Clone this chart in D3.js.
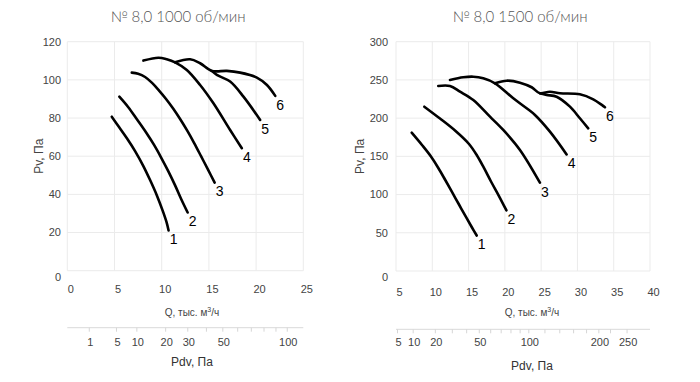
<!DOCTYPE html>
<html><head><meta charset="utf-8">
<script src="https://cdn.jsdelivr.net/npm/d3@7"></script>
<style>
html,body{margin:0;padding:0;background:#fff;}
svg{display:block;}
</style></head>
<body>
<svg id="chart" width="700" height="382"></svg>
<script>
// ---------------- DATA ----------------
const titles = ["№ 8,0 1000 об/мин", "№ 8,0 1500 об/мин"];
const curveLabels = ["1", "2", "3", "4", "5", "6"];

// 1000 rpm
const qTicks1000 = [0, 5, 10, 15, 20, 25];
const pTicks1000 = [0, 20, 40, 60, 80, 100, 120];
const pdvTicks1000 = [1, 5, 10, 20, 30, 50, 100];
const pdvMinor1000 = [1, 5, 10, 20, 30, 40, 50, 60, 70, 80, 90, 100];
const flow1000 = [
  [4.71, 5.48, 6.33, 7.18, 8.03, 8.77, 9.51, 10.15, 10.52, 10.73],
  [5.51, 6.44, 7.39, 8.35, 9.19, 9.94, 10.68, 11.42, 12.06, 12.75],
  [6.83, 7.5, 8.24, 8.98, 9.72, 10.46, 11.21, 11.95, 12.69, 13.44, 14.18, 14.92, 15.61],
  [8.06, 9.65, 10.54, 11.42, 12.66, 14.07, 15.48, 17.25, 18.49],
  [15.31, 15.84, 17.25, 18.66, 20.43],
  [11.42, 13.01, 14.07, 15.31, 16.9, 18.31, 20.08, 21.15, 22.03]
];
const press1000 = [
  [80.7, 75.3, 69.3, 62.7, 55.1, 47.5, 39.2, 30.8, 25.3, 21.1],
  [91.2, 85.8, 79.2, 72.4, 65.9, 59.3, 52.3, 44.7, 37.6, 30.5],
  [103.8, 103.2, 101.5, 98.4, 94.4, 90.0, 85.0, 79.5, 73.5, 66.9, 59.9, 52.8, 46.2],
  [110.1, 111.6, 110.8, 109.2, 105.2, 97.3, 87.7, 73.7, 64.2],
  [104.7, 102.6, 99.1, 91.2, 79.0],
  [109.2, 110.8, 108.7, 104.7, 104.7, 103.8, 101.2, 97.3, 91.6]
];

// 1500 rpm
const qTicks1500 = [5, 10, 15, 20, 25, 30, 35, 40];
const pTicks1500 = [0, 50, 100, 150, 200, 250, 300];
const pdvTicks1500 = [5, 10, 20, 50, 100, 200, 250];
const pdvMinor1500 = [5, 10, 20, 30, 40, 50, 60, 70, 80, 90, 100, 120, 140, 160, 180, 200, 220, 250];
const flow1500 = [
  [7.16, 8.58, 9.82, 10.79, 11.75, 12.71, 13.68, 14.64, 15.47, 16.12],
  [8.9, 11.06, 13.13, 15.06, 16.16, 17.12, 18.09, 19.19, 20.22],
  [10.83, 12.44, 13.82, 15.65, 17.95, 19.78, 22.08, 24.83],
  [12.44, 14.27, 15.65, 17.02, 18.64, 21.16, 23.0, 24.15, 26.21, 28.51],
  [24.83, 25.76, 27.13, 28.97, 30.34, 31.49],
  [18.64, 20.25, 22.08, 23.69, 24.83, 26.21, 27.59, 30.34, 32.18, 33.79]
];
const press1500 = [
  [181.0, 164.9, 149.8, 135.4, 119.7, 103.4, 87.0, 70.7, 56.9, 46.4],
  [215.0, 199.5, 183.8, 166.2, 151.1, 134.8, 117.1, 98.1, 79.2],
  [242.0, 242.0, 234.6, 223.7, 201.9, 184.5, 158.3, 115.5],
  [249.9, 253.4, 254.2, 252.1, 245.6, 226.0, 212.9, 204.1, 182.3, 152.5],
  [232.5, 230.3, 228.0, 215.0, 199.8, 186.7],
  [245.6, 249.0, 246.4, 240.4, 232.5, 234.6, 232.5, 231.2, 224.6, 214.2]
];

// dynamic pressure relation: Q [thousand m3/h] = K * sqrt(Pdv)
const pdvFactor = 2.33;

// ---------------- DRAW ----------------
const svg = d3.select("#chart");
const tickFont = "'Liberation Sans', Arial, sans-serif";

const panels = [
  {title: titles[0], qTicks: qTicks1000, pTicks: pTicks1000, pdvTicks: pdvTicks1000, pdvMinor: pdvMinor1000,
   flow: flow1000, press: press1000, qDom: [0, 25], pDom: [0, 120],
   xr: [67.3, 303.3], yr: [270.7, 41.7], titleX: 178, qLabY: 289, qTitleX: 192,
   pvX: 39, pdvLineY: 327.7, pdvLabY: 342, pdvTitleY: 362, yLabX: 61},
  {title: titles[1], qTicks: qTicks1500, pTicks: pTicks1500, pdvTicks: pdvTicks1500, pdvMinor: pdvMinor1500,
   flow: flow1500, press: press1500, qDom: [5, 40], pDom: [0, 300],
   xr: [396, 650], yr: [271, 41.7], titleX: 520, qLabY: 292, qTitleX: 532,
   pvX: 360, pdvLineY: 329.3, pdvLabY: 342.5, pdvTitleY: 366, yLabX: 388}
];

panels.forEach(pn => {
  const x = d3.scaleLinear().domain(pn.qDom).range(pn.xr);
  const y = d3.scaleLinear().domain(pn.pDom).range(pn.yr);
  const g = svg.append("g");

  // title
  g.append("text").attr("x", pn.titleX).attr("y", 22)
    .attr("text-anchor", "middle")
    .style("font-family", "Lato, 'Noto Sans', sans-serif").style("font-weight", 300)
    .style("font-size", "15px").style("fill", "#555")
    .text(pn.title);

  // grid
  g.append("g").selectAll("line").data(pn.qTicks).join("line")
    .attr("x1", d => x(d)).attr("x2", d => x(d))
    .attr("y1", pn.yr[1]).attr("y2", pn.yr[0])
    .attr("stroke", "#ebebeb").attr("stroke-width", 1);
  g.append("g").selectAll("line").data(pn.pTicks).join("line")
    .attr("x1", pn.xr[0]).attr("x2", pn.xr[1])
    .attr("y1", d => y(d)).attr("y2", d => y(d))
    .attr("stroke", "#ebebeb").attr("stroke-width", 1);

  // y tick labels
  g.append("g").selectAll("text").data(pn.pTicks).join("text")
    .attr("x", pn.yLabX).attr("y", d => y(d) + (d === 0 ? 6 : 0))
    .attr("dy", "0.35em").attr("text-anchor", "end")
    .style("font-family", tickFont).style("font-size", "11px").style("fill", "#444")
    .text(d => d);

  // x tick labels
  g.append("g").selectAll("text").data(pn.qTicks).join("text")
    .attr("x", d => x(d) + 3.5).attr("y", pn.qLabY)
    .attr("dy", "0.35em").attr("text-anchor", "middle")
    .style("font-family", tickFont).style("font-size", "11px").style("fill", "#444")
    .text(d => d);

  // axis titles
  const qt = g.append("text").attr("x", pn.qTitleX).attr("y", 312).attr("dy", "0.35em")
    .attr("text-anchor", "middle")
    .style("font-family", tickFont).style("font-size", "10px").style("fill", "#444");
  qt.append("tspan").text("Q, тыс. м");
  qt.append("tspan").attr("dy", "-4").style("font-size", "7px").text("3");
  qt.append("tspan").attr("dy", "4").text("/ч");

  g.append("text")
    .attr("transform", `translate(${pn.pvX},${(pn.yr[0] + pn.yr[1]) / 2})rotate(-90)`)
    .attr("dy", "0.35em").attr("text-anchor", "middle")
    .style("font-family", tickFont).style("font-size", "12px").style("fill", "#444")
    .text("Pv, Па");

  // Pdv secondary axis
  const pdvToQ = d3.scalePow().exponent(0.5).domain([0, 1]).range([0, pdvFactor]);
  g.append("line").attr("x1", pn.xr[0]).attr("x2", pn.xr[1])
    .attr("y1", pn.pdvLineY).attr("y2", pn.pdvLineY)
    .attr("stroke", "#d9d9d9").attr("stroke-width", 1);
  g.append("g").selectAll("line").data(pn.pdvMinor).join("line")
    .attr("x1", d => x(pdvToQ(d))).attr("x2", d => x(pdvToQ(d)))
    .attr("y1", pn.pdvLineY).attr("y2", pn.pdvLineY + 4)
    .attr("stroke", "#d6d6d6").attr("stroke-width", 1);
  g.append("g").selectAll("text").data(pn.pdvTicks).join("text")
    .attr("x", d => x(pdvToQ(d)) + 1).attr("y", pn.pdvLabY)
    .attr("dy", "0.35em").attr("text-anchor", "middle")
    .style("font-family", tickFont).style("font-size", "11px").style("fill", "#444")
    .text(d => d);
  g.append("text").attr("x", pn.qTitleX).attr("y", pn.pdvTitleY).attr("dy", "0.35em")
    .attr("text-anchor", "middle")
    .style("font-family", tickFont).style("font-size", "12px").style("fill", "#333")
    .text("Pdv, Па");

  // curves
  const line = d3.line().x(d => x(d[0])).y(d => y(d[1])).curve(d3.curveCatmullRom.alpha(0.5));
  pn.flow.forEach((qs, i) => {
    const pts = qs.map((q, j) => [q, pn.press[i][j]]);
    g.append("path").attr("d", line(pts))
      .attr("fill", "none").attr("stroke", "#000").attr("stroke-width", 2.6)
      .attr("stroke-linecap", "round").attr("stroke-linejoin", "round");
  });
  // curve labels near the end of each curve
  pn.flow.forEach((qs, i) => {
    const q = qs[qs.length - 1], p = pn.press[i][qs.length - 1];
    g.append("text").attr("x", x(q) + 5).attr("y", y(p) + 9)
      .attr("dy", "0.35em").attr("text-anchor", "middle")
      .style("font-family", tickFont).style("font-size", "14px").style("fill", "#000")
      .text(curveLabels[i]);
  });
});
</script>
</body></html>
